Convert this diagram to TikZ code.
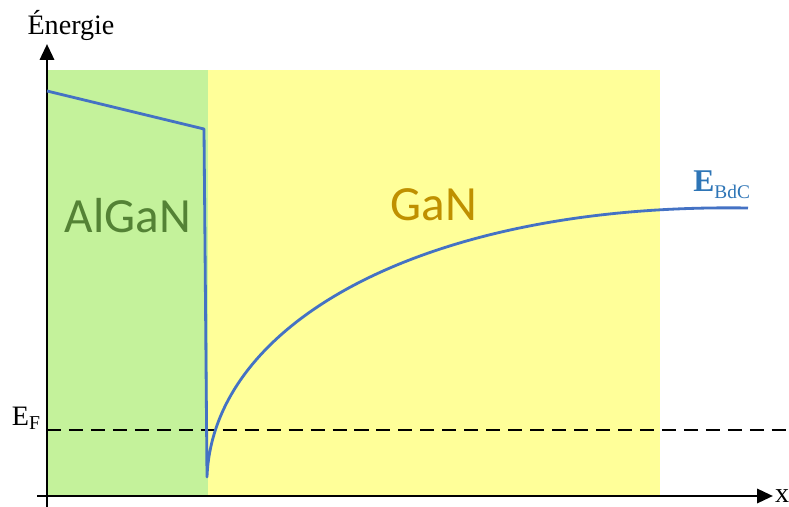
\documentclass[tikz,border=0pt]{standalone}
\usepackage{fontspec}
\setmainfont{Liberation Serif}
\newfontfamily\layerfont{Carlito}
\usetikzlibrary{arrows.meta, positioning}
\definecolor{alganfill}{HTML}{C4F29B}
\definecolor{ganfill}{HTML}{FFFF99}
\definecolor{algantext}{HTML}{548235}
\definecolor{gantext}{HTML}{BF9000}
\definecolor{bandblue}{HTML}{4472C4}
\definecolor{labelblue}{HTML}{2E75B6}

\begin{document}
\begin{tikzpicture}[
    x=0.02cm, y=-0.02cm,
    axis/.style={line width=1.6pt, -{Triangle[length=9pt, width=8pt]}},
    band/.style={line width=1.6pt, draw=bandblue, line join=round},
    fermi/.style={line width=1.1pt, dash pattern=on 8pt off 4.5pt},
    layer/.style={font=\layerfont\fontsize{28}{34}\selectfont},
    label/.style={font=\fontsize{16}{19}\selectfont},
    >=Stealth
  ]
  \useasboundingbox (0,0) rectangle (789,507);

  % Layers
  \fill[alganfill] (47,70) rectangle (208,495);
  \fill[ganfill] (208,70) rectangle (660,495);
  \node[layer, text=algantext] (algan) at (128,216) {AlGaN};
  \node[layer, text=gantext] (gan) at (434,205) {GaN};

  % Axes
  \coordinate (ybot) at (47,507);
  \coordinate (ytop) at (47,44);
  \coordinate (xbeg) at (37,496);
  \coordinate (xend) at (773,496);
  \draw[axis] (ybot) -- (ytop);
  \draw[axis] (xbeg) -- (xend);
  \node[label, anchor=base] (energie) at (71,34) {Énergie};
  \node[label, anchor=west, inner sep=1pt] (xlab) at (xend) {x};

  % Fermi level
  \coordinate (fl) at (47,430);
  \coordinate (fr) at (789,430);
  \draw[fermi] (fl) -- (fr);
  \node[label, anchor=south east, inner sep=1pt] (ef) at (43,432) {E\textsubscript{F}};

  % Conduction band
  \coordinate (bstart) at (47,91);
  \coordinate (bkink) at (204,129);
  \coordinate (bwell) at (207,477);
  \coordinate (bend) at (748,208);
  \draw[band] (bstart) -- (bkink) -- (bwell)
    .. controls (213,320) and (430,203) .. (bend);
  \node[text=labelblue, anchor=base west, inner sep=0pt] (ebdc) at (693,191)
    {\fontsize{18}{21}\selectfont\textbf{E}\raisebox{-0.25em}{\fontsize{11}{13}\selectfont BdC}};
\end{tikzpicture}
\end{document}
